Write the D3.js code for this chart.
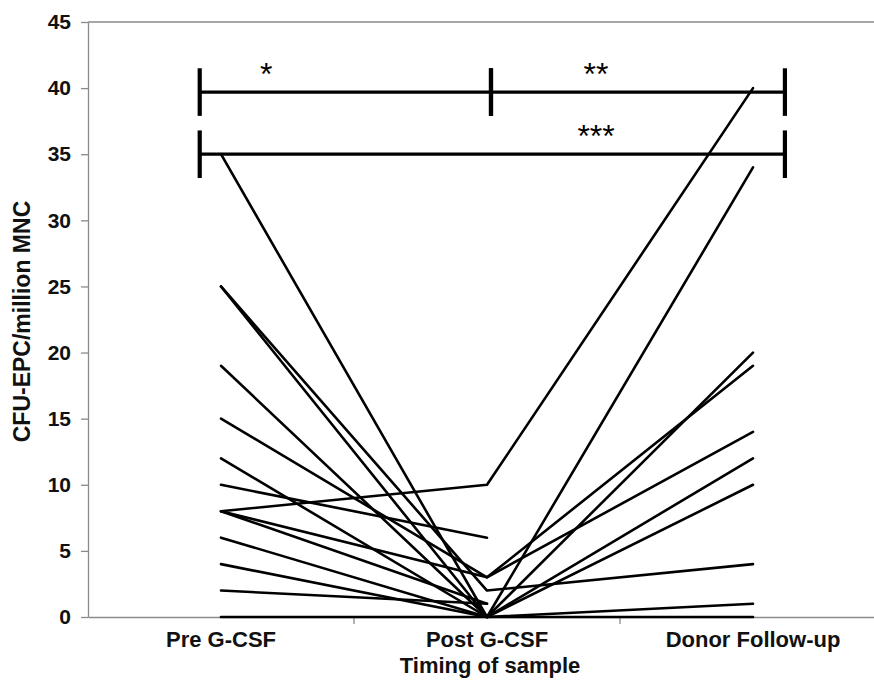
<!DOCTYPE html>
<html>
<head>
<meta charset="utf-8">
<script src="https://cdn.jsdelivr.net/npm/d3@7/dist/d3.min.js"></script>
<style>
  html, body { margin: 0; padding: 0; background: #fff; }
  svg { display: block; }
  text { font-family: "Liberation Sans", Arial, sans-serif; }
</style>
</head>
<body>
<div id="chart"></div>
<script>
// Sampling time points
const categories = ["Pre G-CSF", "Post G-CSF", "Donor Follow-up"];

// CFU-EPC per million MNC for each donor (null = no sample)
const preValues      = [35, 25, 25, 19, 15, 12, 10, 8, 8, 8, 6, 4, 2, 0];
const postValues     = [0, 0, 2, 0, 3, 0, 6, 10, 3, 1, 0, 0, 1, 0];
const followUpValues = [34, 20, 4, 12, 19, 10, null, 40, 14, null, 1, null, null, 0];

const yTicks = [0, 5, 10, 15, 20, 25, 30, 35, 40, 45];

// Significance brackets: ends on the category index axis, level in y units
const bracketStart = [-0.08, 1.015, -0.08];
const bracketEnd   = [1.015, 2.12, 2.12];
const bracketLevel = [39.7, 39.7, 35.0];
const bracketCap   = [1.8, 1.8, 1.8];
const starLabels   = ["*", "**", "***"];
const starPos      = [0.17, 1.41, 1.41];
const starLevel    = [41.7, 41.7, 37.0];

const W = 874, H = 683;
const margin = { left: 88, top: 22, bottom: 66 };
const plotRight = 886;

const svg = d3.select("#chart").append("svg")
  .attr("width", W).attr("height", H);

const x = d3.scaleBand().domain(categories).range([margin.left, plotRight]).padding(0);
const xi = d3.scaleLinear().domain([0, 2])
  .range([x(categories[0]) + x.bandwidth() / 2, x(categories[2]) + x.bandwidth() / 2]);
const y = d3.scaleLinear().domain([0, 45]).range([H - margin.bottom, margin.top]);

const axisColor = "#8a8a8a";
const labelFont = "'Liberation Sans', Arial, sans-serif";

// top frame line
svg.append("line")
  .attr("x1", margin.left).attr("x2", plotRight)
  .attr("y1", y(45)).attr("y2", y(45))
  .attr("stroke", axisColor).attr("stroke-width", 1.3);

// y axis
const yAxis = svg.append("g")
  .attr("transform", `translate(${margin.left},0)`)
  .call(d3.axisLeft(y).tickValues(yTicks).tickSizeInner(7).tickSizeOuter(0).tickPadding(10));
yAxis.select(".domain").attr("stroke", axisColor).attr("stroke-width", 1.3);
yAxis.selectAll(".tick line").attr("stroke", axisColor).attr("stroke-width", 1.3);
yAxis.selectAll(".tick text")
  .attr("fill", "#111").style("font-size", "21px").style("font-weight", "bold")
  .style("font-family", labelFont);

// x axis
const xAxis = svg.append("g")
  .attr("transform", `translate(0,${y(0)})`)
  .call(d3.axisBottom(x).tickSizeInner(0).tickSizeOuter(0).tickPadding(14));
xAxis.select(".domain").attr("stroke", axisColor).attr("stroke-width", 1.3);
xAxis.selectAll(".tick text")
  .attr("fill", "#111").style("font-size", "22px").style("font-weight", "bold")
  .style("font-family", labelFont);

// tick marks between categories
svg.append("g").selectAll("line")
  .data(categories.slice(1))
  .join("line")
  .attr("x1", d => x(d)).attr("x2", d => x(d))
  .attr("y1", y(0)).attr("y2", y(0) + 7)
  .attr("stroke", axisColor).attr("stroke-width", 1.3);

// axis titles
svg.append("text")
  .attr("x", 490).attr("y", 673)
  .attr("text-anchor", "middle")
  .style("font-size", "22px").style("font-weight", "bold").attr("fill", "#111")
  .text("Timing of sample");

svg.append("text")
  .attr("transform", `translate(30,${(y(0) + y(45)) / 2 + 2}) rotate(-90)`)
  .attr("text-anchor", "middle")
  .style("font-size", "23px").style("font-weight", "bold").attr("fill", "#111")
  .text("CFU-EPC/million MNC");

// donor lines
const donors = preValues.map((v, i) => [
  { c: 0, v: v },
  { c: 1, v: postValues[i] },
  { c: 2, v: followUpValues[i] }
]);

const line = d3.line()
  .defined(d => d.v != null)
  .x(d => xi(d.c))
  .y(d => y(d.v));

svg.append("g").selectAll("path")
  .data(donors)
  .join("path")
  .attr("d", line)
  .attr("fill", "none")
  .attr("stroke", "#000")
  .attr("stroke-width", 2.6)
  .attr("stroke-linejoin", "round")
  .attr("stroke-linecap", "round");

// significance brackets
const brackets = svg.append("g");
bracketLevel.forEach((lvl, i) => {
  brackets.append("line")
    .attr("x1", xi(bracketStart[i])).attr("x2", xi(bracketEnd[i]))
    .attr("y1", y(lvl)).attr("y2", y(lvl))
    .attr("stroke", "#000").attr("stroke-width", 3.2);
  [bracketStart[i], bracketEnd[i]].forEach(e => {
    brackets.append("line")
      .attr("x1", xi(e)).attr("x2", xi(e))
      .attr("y1", y(lvl + bracketCap[i])).attr("y2", y(lvl - bracketCap[i]))
      .attr("stroke", "#000").attr("stroke-width", 4.2);
  });
  // asterisk glyph sits high in the em box; shift baseline so its centre lands on the level
  brackets.append("text")
    .attr("x", xi(starPos[i]))
    .attr("y", y(starLevel[i]) + 19)
    .attr("text-anchor", "middle")
    .style("font-size", "32px").attr("fill", "#000")
    .text(starLabels[i]);
});
</script>
</body>
</html>
